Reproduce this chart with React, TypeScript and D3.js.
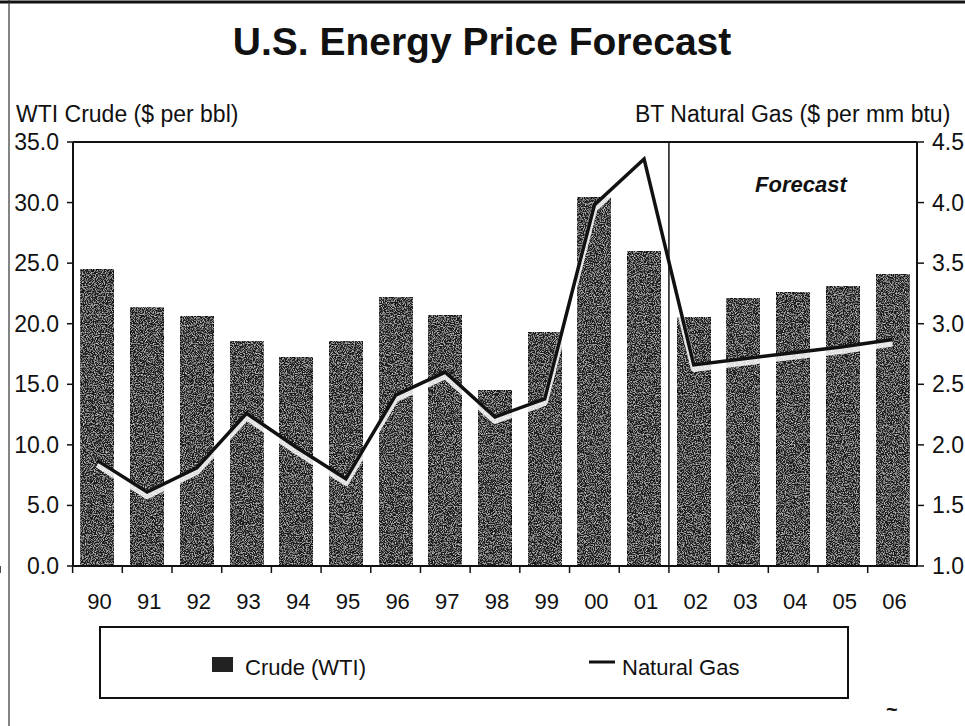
import React from "react";
import * as d3 from "d3";

const years = ["90", "91", "92", "93", "94", "95", "96", "97", "98", "99", "00", "01", "02", "03", "04", "05", "06"];
const crudeWTI = [24.5, 21.3, 20.6, 18.5, 17.2, 18.5, 22.2, 20.7, 14.5, 19.3, 30.4, 26.0, 20.5, 22.1, 22.6, 23.1, 24.1];
const naturalGas = [1.87, 1.61, 1.81, 2.26, 1.98, 1.72, 2.41, 2.60, 2.23, 2.38, 3.98, 4.36, 2.66, 2.71, 2.76, 2.81, 2.87];
const leftTicks = [0, 5, 10, 15, 20, 25, 30, 35];
const rightTicks = [1.0, 1.5, 2.0, 2.5, 3.0, 3.5, 4.0, 4.5];
const forecastStart = "02";

const W = 965;
const H = 726;
const plot = { left: 73, right: 917, top: 142, bottom: 566 };
const FONT = "'Liberation Sans', Arial, Helvetica, sans-serif";

export default function App() {
  const x = d3
    .scaleBand<string>()
    .domain(years)
    .range([plot.left, plot.right])
    .paddingInner(0.335)
    .paddingOuter(0.16);
  const yL = d3.scaleLinear().domain([0, 35]).range([plot.bottom, plot.top]);
  const yR = d3.scaleLinear().domain([1.0, 4.5]).range([plot.bottom, plot.top]);
  const step = x.step();
  const gap = step * x.paddingInner();
  const edge = (i: number) => (x(years[i]) as number) - gap / 2;
  const cx = (d: string) => (x(d) as number) + x.bandwidth() / 2;

  const line = d3
    .line<number>()
    .x((_, i) => cx(years[i]))
    .y((v) => yR(v));
  const gasPath = line(naturalGas) || "";

  const tickEdges = d3.range(years.length + 1).map(edge);
  const divX = edge(years.indexOf(forecastStart));

  return (
    <svg
      width={W}
      height={H}
      style={{ position: "fixed", left: 0, top: 0, background: "#fff" }}
      fontFamily={FONT}
    >
      <defs>
        <filter id="grain" x="0" y="0" width="1" height="1">
          <feTurbulence type="fractalNoise" baseFrequency="0.9" numOctaves="2" seed="7" result="noise" />
          <feColorMatrix
            in="noise"
            type="matrix"
            values="0 0 0 0 0.85  0 0 0 0 0.85  0 0 0 0 0.85  2.0 0 0 0 -0.92"
            result="speck"
          />
          <feComposite in="speck" in2="SourceGraphic" operator="in" result="s2" />
          <feMerge>
            <feMergeNode in="SourceGraphic" />
            <feMergeNode in="s2" />
          </feMerge>
        </filter>
      </defs>
      <rect x={0} y={0} width={W} height={H} fill="#fff" />
      {/* page edges */}
      <line x1={0} x2={W} y1={2} y2={2} stroke="#111" strokeWidth={3} />
      <line x1={9} x2={9} y1={0} y2={H} stroke="#333" strokeWidth={1.2} />

      {/* title */}
      <text x={482} y={55} textAnchor="middle" fontSize={39} fontWeight="bold" fill="#111">
        U.S. Energy Price Forecast
      </text>
      <text x={16} y={122} fontSize={23} fill="#111">
        WTI Crude ($ per bbl)
      </text>
      <text x={635} y={122} fontSize={23} fill="#111">
        BT Natural Gas ($ per mm btu)
      </text>

      {/* bars */}
      <g>
        {years.map((d, i) => (
          <rect
            key={d}
            x={x(d)}
            y={yL(crudeWTI[i])}
            width={x.bandwidth()}
            height={yL(0) - yL(crudeWTI[i])}
            fill="#1e1e1e"
            stroke="#111"
            strokeWidth={1.5}
            filter="url(#grain)"
          />
        ))}
      </g>

      {/* gas line with halo */}
      <path
        d={gasPath}
        fill="none"
        stroke="#fff"
        strokeOpacity={0.85}
        strokeWidth={6}
        strokeLinejoin="round"
        transform="translate(0,4)"
      />
      <path d={gasPath} fill="none" stroke="#111" strokeWidth={3.5} strokeLinejoin="miter" />

      {/* forecast divider */}
      <line x1={divX} x2={divX} y1={plot.top} y2={plot.bottom} stroke="#111" strokeWidth={1.5} />
      <text x={755} y={192} fontSize={22} fontWeight="bold" fontStyle="italic" fill="#111">
        Forecast
      </text>

      {/* frame */}
      <line x1={plot.left} x2={plot.right} y1={plot.top} y2={plot.top} stroke="#111" strokeWidth={2} />
      <line x1={plot.left} x2={plot.left} y1={plot.top} y2={plot.bottom} stroke="#111" strokeWidth={2} />
      <line x1={plot.right} x2={plot.right} y1={plot.top} y2={plot.bottom} stroke="#111" strokeWidth={2} />
      <line x1={plot.left} x2={plot.right} y1={plot.bottom} y2={plot.bottom} stroke="#111" strokeWidth={2} />

      {/* left axis */}
      {leftTicks.map((t) => (
        <g key={"l" + t}>
          <line x1={plot.left - 6} x2={plot.left} y1={yL(t)} y2={yL(t)} stroke="#111" strokeWidth={1.5} />
          <text x={59} y={yL(t) + 8} textAnchor="end" fontSize={23} fill="#111">
            {t.toFixed(1)}
          </text>
        </g>
      ))}

      {/* right axis */}
      {rightTicks.map((t) => (
        <g key={"r" + t}>
          <line x1={plot.right} x2={plot.right + 7} y1={yR(t)} y2={yR(t)} stroke="#111" strokeWidth={1.5} />
          <text x={932} y={yR(t) + 8} textAnchor="start" fontSize={23} fill="#111">
            {t.toFixed(1)}
          </text>
        </g>
      ))}

      {/* x axis */}
      {tickEdges.map((e, i) => (
        <line key={"t" + i} x1={e} x2={e} y1={plot.bottom} y2={plot.bottom + 7} stroke="#111" strokeWidth={1.5} />
      ))}
      {years.map((d) => (
        <text key={"x" + d} x={cx(d) + 2} y={609} textAnchor="middle" fontSize={22} fill="#111">
          {d}
        </text>
      ))}

      {/* legend */}
      <rect x={100} y={627} width={748} height={71} fill="none" stroke="#111" strokeWidth={2} />
      <rect x={212} y={657} width={21} height={15} fill="#222" />
      <text x={245} y={675} fontSize={22} fill="#111">
        Crude (WTI)
      </text>
      <line x1={589} x2={615} y1={662} y2={662} stroke="#111" strokeWidth={3} />
      <text x={622} y={675} fontSize={22} fill="#111">
        Natural Gas
      </text>
      <text x={886} y={716} fontSize={20} fontWeight="bold" fill="#111">
        ~
      </text>
    </svg>
  );
}
